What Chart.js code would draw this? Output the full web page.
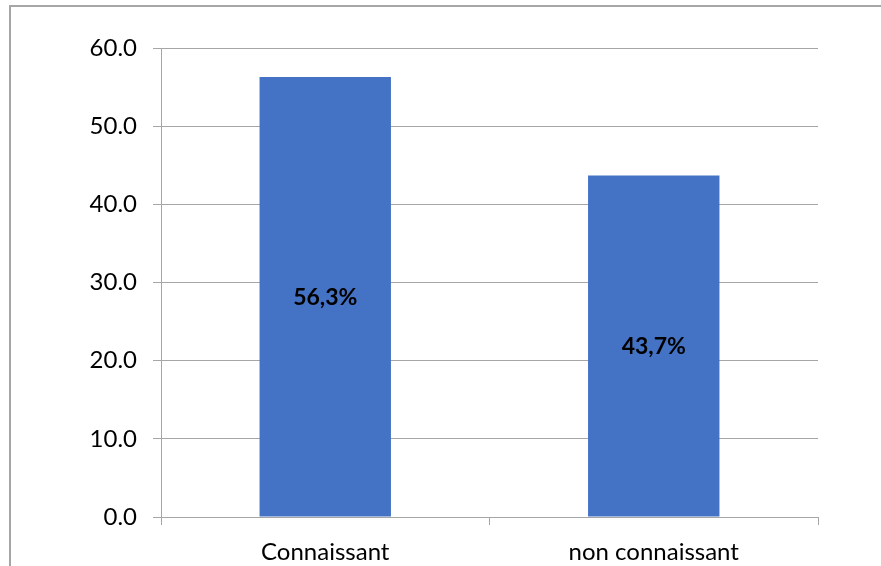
<!DOCTYPE html>
<html>
<head>
<meta charset="utf-8">
<script src="https://cdn.jsdelivr.net/npm/chart.js@4/dist/chart.umd.min.js"></script>
<style>
  html, body { margin: 0; padding: 0; background: #fff; }
  #wrap { width: 881px; height: 566px; position: relative; }
</style>
</head>
<body>
<div id="wrap"><canvas id="c" width="881" height="566"></canvas></div>
<script>
const categories = ['Connaissant', 'non connaissant'];
const percentages = [56.3, 43.7];
const yTicks = [0, 10, 20, 30, 40, 50, 60];

const FONT = 'Lato, "Open Sans", sans-serif';
const GRID = '#a6a6a6';

// Outer frame of the chart object
const framePlugin = {
  id: 'frame',
  afterDraw(chart) {
    const ctx = chart.ctx;
    ctx.save();
    ctx.strokeStyle = '#a6a6a6';
    ctx.lineWidth = 2;
    ctx.beginPath();
    ctx.moveTo(10, chart.height + 2);
    ctx.lineTo(10, 6);
    ctx.lineTo(chart.width + 2, 6);
    ctx.stroke();
    ctx.restore();
  }
};

// Value labels centred inside each bar
const valueLabels = {
  id: 'valueLabels',
  afterDatasetsDraw(chart) {
    const ctx = chart.ctx;
    const meta = chart.getDatasetMeta(0);
    const data = chart.data.datasets[0].data;
    ctx.save();
    ctx.font = 'bold 23px ' + FONT;
    ctx.fillStyle = '#000';
    ctx.textAlign = 'center';
    ctx.textBaseline = 'middle';
    meta.data.forEach((bar, i) => {
      const txt = data[i].toFixed(1).replace('.', ',') + '%';
      ctx.fillText(txt, bar.x, (bar.y + bar.base) / 2 + 1);
    });
    ctx.restore();
  }
};

new Chart(document.getElementById('c'), {
  type: 'bar',
  data: {
    labels: categories,
    datasets: [{
      data: percentages,
      backgroundColor: '#4472c4',
      borderWidth: 0,
      barPercentage: 0.4,
      categoryPercentage: 1.0
    }]
  },
  options: {
    responsive: false,
    animation: false,
    layout: { padding: { left: 0, right: 63, top: 48, bottom: 0 } },
    plugins: { legend: { display: false }, tooltip: { enabled: false } },
    scales: {
      x: {
        offset: true,
        grid: {
          offset: true,
          drawOnChartArea: false,
          drawTicks: true,
          tickLength: 8,
          color: GRID,
          lineWidth: 1
        },
        border: { display: true, color: GRID, width: 1 },
        ticks: {
          color: '#000',
          font: { family: FONT, size: 24 },
          padding: 13
        },
        afterFit(scale) { scale.height = 49; }
      },
      y: {
        min: 0,
        max: 60,
        afterBuildTicks(scale) { scale.ticks = yTicks.map(v => ({ value: v })); },
        grid: {
          color: GRID,
          lineWidth: 1,
          tickLength: 8,
          drawTicks: true
        },
        border: { display: true, color: GRID, width: 1 },
        ticks: {
          color: '#000',
          font: { family: FONT, size: 24 },
          padding: 16,
          callback: v => Number(v).toFixed(1)
        },
        afterFit(scale) { scale.width = 161; }
      }
    }
  },
  plugins: [framePlugin, valueLabels]
});
</script>
</body>
</html>
